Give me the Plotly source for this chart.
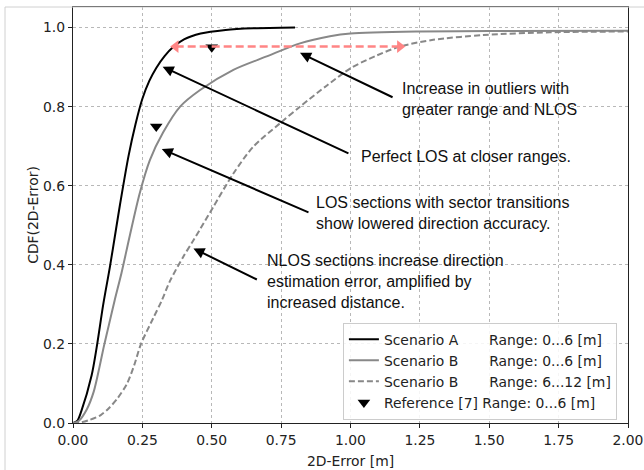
import plotly.graph_objects as go

# ---- data ----
a_x = [0.0, 0.015, 0.03, 0.067, 0.085, 0.109, 0.133, 0.155, 0.17, 0.2, 0.225, 0.25, 0.275, 0.30, 0.33, 0.36, 0.40, 0.46, 0.55, 0.65, 0.80]
a_y = [0.0, 0.005, 0.03, 0.12, 0.19, 0.30, 0.395, 0.49, 0.555, 0.675, 0.755, 0.82, 0.865, 0.898, 0.928, 0.95, 0.97, 0.985, 0.994, 0.998, 1.0]

b_x = [0.0, 0.02, 0.05, 0.075, 0.095, 0.11, 0.13, 0.15, 0.175, 0.205, 0.24, 0.277, 0.325, 0.386, 0.458, 0.578, 0.698, 0.818, 0.926, 1.0, 1.25, 1.5, 2.0]
b_y = [0.0, 0.005, 0.035, 0.08, 0.14, 0.19, 0.25, 0.31, 0.38, 0.475, 0.58, 0.665, 0.735, 0.80, 0.842, 0.893, 0.927, 0.96, 0.978, 0.985, 0.99, 0.991, 0.992]

c_x = [0.0, 0.03, 0.06, 0.1, 0.13, 0.16, 0.195, 0.22, 0.245, 0.289, 0.32, 0.35, 0.397, 0.434, 0.458, 0.506, 0.578, 0.65, 0.746, 0.818, 0.914, 1.0, 1.09, 1.178, 1.298, 1.479, 1.719, 2.0]
c_y = [0.0, 0.002, 0.008, 0.02, 0.038, 0.062, 0.1, 0.145, 0.2, 0.265, 0.31, 0.36, 0.42, 0.462, 0.49, 0.547, 0.631, 0.699, 0.758, 0.80, 0.853, 0.897, 0.928, 0.952, 0.969, 0.981, 0.988, 0.99]

ref_x = [0.5, 0.3]
ref_y = [0.95, 0.75]

names = ["Scenario A", "Scenario B", "Scenario B", "Reference [7]"]
ranges = ["Range: 0...6 [m]", "Range: 0...6 [m]", "Range: 6...12 [m]", "Range: 0...6 [m]"]
pads = [7, 7, 7, 1]

x_ticks = [0.0, 0.25, 0.5, 0.75, 1.0, 1.25, 1.5, 1.75, 2.0]
y_ticks = [0.0, 0.2, 0.4, 0.6, 0.8, 1.0]

# red double arrow (outlier span)
span_x = [0.37, 1.178]
span_y = [0.952, 0.952]

# annotation texts: (text, x, y) and arrows: (head_x, head_y, tail_x, tail_y)
notes = [
    ("Increase in outliers with<br>greater range and NLOS", 1.178, 0.819),
    ("Perfect LOS at closer ranges.", 1.031, 0.673),
    ("LOS sections with sector transitions<br>show lowered direction accuracy.", 0.868, 0.531),
    ("NLOS sections increase direction<br>estimation error, amplified by<br>increased distance.", 0.692, 0.359),
]
arrows = [
    (0.818, 0.936, 1.157, 0.822),
    (0.323, 0.901, 0.998, 0.680),
    (0.320, 0.693, 0.854, 0.531),
    (0.434, 0.4415, 0.668, 0.361),
]

NB = "\u00a0"
lab = [n + NB * p + r for n, p, r in zip(names, pads, ranges)]

TICKFONT = dict(family="DejaVu Sans", size=13.9, color="#222222")
NOTEFONT = dict(family="Liberation Sans, Arial", size=16, color="#111111")

fig = go.Figure()
fig.add_trace(go.Scatter(x=a_x, y=a_y, mode="lines", name=lab[0],
                         line=dict(color="black", width=2, shape="spline", smoothing=0.8)))
fig.add_trace(go.Scatter(x=b_x, y=b_y, mode="lines", name=lab[1],
                         line=dict(color="#888888", width=2, shape="spline", smoothing=0.8)))
fig.add_trace(go.Scatter(x=c_x, y=c_y, mode="lines", name=lab[2],
                         line=dict(color="#888888", width=2, dash="6px,3px", shape="spline", smoothing=0.8)))
fig.add_trace(go.Scatter(x=ref_x, y=ref_y, mode="markers", name=lab[3],
                         marker=dict(symbol="triangle-down", size=11, color="black")))

# red dashed double-headed arrow
fig.add_trace(go.Scatter(x=span_x, y=span_y, mode="lines", showlegend=False, hoverinfo="skip",
                         line=dict(color="#ff8585", width=2.5, dash="8px,4px")))
fig.add_trace(go.Scatter(x=[span_x[0]], y=[span_y[0]], mode="markers", showlegend=False, hoverinfo="skip",
                         marker=dict(symbol="triangle-left", size=11, color="#ff8585")))
fig.add_trace(go.Scatter(x=[span_x[1]], y=[span_y[1]], mode="markers", showlegend=False, hoverinfo="skip",
                         marker=dict(symbol="triangle-right", size=11, color="#ff8585")))

for t, x, y in notes:
    fig.add_annotation(x=x, y=y, xref="x", yref="y", text=t, showarrow=False,
                       xanchor="left", yanchor="middle", align="left", font=NOTEFONT)
for hx, hy, tx, ty in arrows:
    fig.add_annotation(x=hx, y=hy, ax=tx, ay=ty, xref="x", yref="y", axref="x", ayref="y",
                       text="", showarrow=True, arrowhead=2, arrowsize=1.1, arrowwidth=2,
                       arrowcolor="black", standoff=0, startstandoff=0)

axis_common = dict(showline=True, linecolor="#222222", linewidth=1.2, mirror=True,
                   ticks="outside", ticklen=4, tickwidth=1, tickcolor="#222222",
                   showgrid=True, gridcolor="#b8b8b8", gridwidth=1, griddash="dot",
                   zeroline=False, tickfont=TICKFONT, automargin=False)

fig.update_xaxes(range=[0, 2.0], tickvals=x_ticks, ticktext=[f"{v:.2f}" for v in x_ticks],
                 title=dict(text="2D-Error [m]", font=TICKFONT, standoff=9), **axis_common)
fig.update_yaxes(range=[0, 1.052], tickvals=y_ticks, ticktext=[f"{v:.1f}" for v in y_ticks],
                 title=dict(text="CDF(2D-Error)", font=TICKFONT, standoff=1), **axis_common)

# light gray outer frame (left and top)
fig.add_shape(type="line", xref="paper", yref="paper", x0=-0.1225, x1=-0.1225, y0=1.0, y1=-0.12,
              line=dict(color="#d0d0d0", width=1))
fig.add_shape(type="line", xref="paper", yref="paper", x0=-0.1225, x1=1.03, y0=1.0, y1=1.0,
              line=dict(color="#d0d0d0", width=1))

fig.update_layout(
    width=644, height=470,
    margin=dict(l=73, r=16, t=7, b=47),
    plot_bgcolor="white", paper_bgcolor="white",
    font=TICKFONT,
    legend=dict(x=0.98, y=0.008, xanchor="right", yanchor="bottom",
                bgcolor="rgba(255,255,255,0.85)", bordercolor="#cccccc", borderwidth=1,
                font=TICKFONT, itemwidth=30, tracegroupgap=0),
    showlegend=True,
)

fig.write_html("out.html")
